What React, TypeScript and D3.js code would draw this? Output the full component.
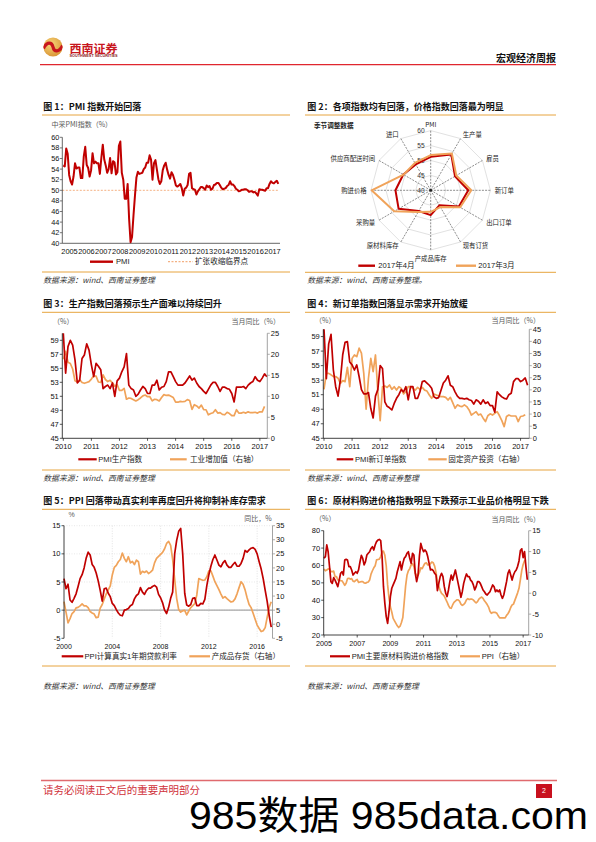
import React from 'react';
import * as d3 from 'd3';

// ================= DATA =================
const c1Years = ['2005', '2006', '2007', '2008', '2009', '2010', '2011', '2012', '2013', '2014', '2015', '2016', '2017'];
const c1Ticks = [40, 42, 44, 46, 48, 50, 52, 54, 56, 58, 60];
const c1Threshold = 50;
// monthly, Jan 2005 - Apr 2017
const c1Pmi = [
  54.7, 54.5, 57.9, 56.9, 52.9, 51.7, 51.1, 52.6, 55.1, 54.1, 54.3, 54.3,
  52.3, 52.3, 56.4, 58.2, 54.8, 54.2, 52.6, 53.8, 57.0, 55.1, 55.4, 55.1,
  55.1, 53.1, 56.1, 58.6, 55.8, 54.7, 53.3, 54.0, 56.1, 53.2, 55.5, 55.3,
  53.0, 53.4, 58.4, 59.2, 53.3, 52.0, 48.4, 48.4, 51.2, 44.6, 40.2, 41.2,
  45.3, 49.0, 52.4, 53.5, 53.1, 53.2, 53.3, 54.0, 54.3, 55.2, 55.2, 56.6,
  55.8, 52.0, 55.1, 55.7, 53.9, 52.1, 51.2, 51.7, 53.8, 54.7, 55.2, 53.9,
  52.9, 52.2, 53.4, 52.9, 52.0, 50.9, 50.7, 50.9, 51.2, 50.4, 49.0, 50.3,
  50.5, 51.0, 53.1, 53.3, 50.4, 50.2, 50.1, 49.2, 49.8, 50.2, 50.6, 50.6,
  50.4, 50.1, 50.9, 50.6, 50.8, 50.1, 50.3, 51.0, 51.1, 51.4, 51.4, 51.0,
  50.5, 50.2, 50.3, 50.4, 50.8, 51.0, 51.7, 51.1, 51.1, 50.8, 50.3, 50.1,
  49.8, 49.9, 50.1, 50.1, 50.2, 50.2, 50.0, 49.7, 49.8, 49.8, 49.6, 49.7,
  49.4, 49.0, 50.2, 50.1, 50.1, 50.0, 49.9, 50.4, 50.4, 51.2, 51.7, 51.4,
  51.3, 51.6, 51.8, 51.2,
];

const c2Axes = ['PMI', '生产量', '雇员', '新订单', '出口订单', '现有订货', '产成品库存', '原材料库存', '采购量', '购进价格', '供应商配送时间', '进口'];
const c2Apr = [51.2, 53.8, 49.4, 52.6, 50.9, 45.8, 48.3, 48.0, 52.4, 51.8, 50.6, 50.0];
const c2Mar = [51.8, 54.2, 49.9, 53.6, 51.4, 46.5, 47.2, 48.4, 54.1, 59.8, 50.5, 50.6];
const c2Rings = [45, 50, 55, 60];
const c2RingLabels = [40, 45, 50, 55, 60];

const c3Years = ['2010', '2011', '2012', '2013', '2014', '2015', '2016', '2017'];
const c3LeftTicks = [45, 47, 49, 51, 53, 55, 57, 59];
const c3RightTicks = [0, 5, 10, 15, 20, 25];
// monthly, Jan 2010 - Apr 2017
const c3Prod = [
  60.0, 54.3, 58.1, 59.0, 58.3, 56.2, 52.9, 53.3, 56.4, 56.9, 58.5, 57.6,
  55.5, 53.8, 55.7, 55.3, 54.8, 52.1, 52.4, 52.6, 52.1, 52.9, 51.0, 53.2,
  53.6, 54.5, 55.2, 57.1, 52.6, 52.1, 51.9, 51.0, 51.3, 51.9, 52.4, 52.1,
  51.4, 51.4, 52.6, 52.6, 53.3, 51.9, 52.3, 52.4, 53.1, 54.5, 54.5, 53.8,
  53.1, 52.6, 52.6, 52.6, 52.9, 53.4, 53.9, 53.3, 53.6, 52.9, 52.4, 52.1,
  51.7, 51.4, 52.0, 52.6, 53.0, 53.0, 52.4, 51.7, 52.3, 52.3, 52.1, 52.0,
  51.4, 50.2, 52.3, 52.3, 52.3, 52.4, 52.1, 52.6, 52.9, 53.1, 53.8, 53.3,
  53.1, 53.6, 54.2, 53.8,
];
// monthly, Jan 2010 - Mar 2017
const c3Iva = [
  18.8, 20.7, 18.1, 17.8, 16.5, 13.7, 13.4, 13.9, 13.3, 13.1, 13.3, 13.5,
  14.1, 14.9, 14.8, 13.4, 13.3, 15.1, 14.0, 13.5, 13.8, 13.2, 12.4, 12.8,
  11.4, 11.4, 11.9, 9.3, 9.6, 9.5, 9.2, 8.9, 9.2, 9.6, 10.1, 10.3,
  9.9, 9.9, 8.9, 9.3, 9.2, 8.9, 9.7, 10.4, 10.2, 10.3, 10.0, 9.7,
  8.6, 8.6, 8.8, 8.7, 8.8, 9.2, 9.0, 6.9, 8.0, 7.7, 7.2, 7.9,
  6.8, 6.8, 5.6, 5.9, 6.1, 6.8, 6.0, 6.1, 5.7, 5.6, 6.2, 5.9,
  5.4, 5.4, 6.8, 6.0, 6.0, 6.2, 6.0, 6.3, 6.1, 6.1, 6.2, 6.0,
  6.3, 6.3, 7.6,
];

const c4RightTicks = [0, 5, 10, 15, 20, 25, 30, 35, 40, 45];
// monthly, Jan 2010 - Apr 2017
const c4NewOrders = [
  60.0, 53.2, 58.0, 59.3, 54.4, 52.1, 50.8, 53.0, 56.5, 58.2, 58.3, 55.5,
  55.1, 54.4, 55.1, 53.5, 51.7, 51.1, 51.1, 51.3, 49.1, 47.8, 50.8, 51.7,
  55.0, 54.6, 50.0, 49.4, 49.2, 48.9, 49.8, 50.5, 51.0, 51.7, 51.4, 52.1,
  50.3, 52.1, 52.1, 50.5, 50.5, 51.4, 52.8, 52.9, 52.6, 52.3, 51.9, 50.7,
  50.5, 50.6, 51.6, 52.6, 53.0, 53.6, 52.3, 52.1, 51.4, 50.8, 50.5, 50.5,
  50.4, 50.5, 50.3, 50.2, 49.7, 50.3, 50.1, 49.7, 50.3, 49.8, 50.0, 49.5,
  49.5, 48.6, 51.4, 51.0, 50.7, 50.5, 50.4, 51.0, 51.2, 52.8, 53.2, 53.2,
  52.8, 53.0, 53.3, 52.3,
];
// monthly, Jan 2010 - Mar 2017
const c4Fai = [
  20.2, 26.8, 26.8, 26.2, 25.5, 25.5, 24.8, 22.7, 23.8, 23.4, 29.3, 21.3,
  33.0, 34.4, 33.7, 37.2, 35.2, 26.8, 12.0, 24.8, 33.0, 27.5, 34.4, 19.3,
  7.3, 21.3, 21.6, 21.0, 22.0, 20.2, 21.3, 19.9, 21.3, 20.6, 18.3, 19.3,
  21.3, 21.3, 20.6, 19.9, 21.0, 20.2, 21.0, 19.9, 19.5, 17.9, 16.5, 18.3,
  17.9, 17.5, 17.2, 17.2, 16.9, 15.8, 16.9, 14.7, 12.4, 13.8, 13.3, 13.1,
  13.8, 13.1, 11.7, 9.6, 10.3, 11.0, 9.6, 10.0, 8.3, 6.9, 9.3, 10.1,
  9.6, 10.3, 11.0, 9.3, 7.3, 4.8, 9.0, 9.6, 9.2, 9.2, 9.2, 6.9,
  9.0, 9.2, 9.7,
];

const c5Years = ['2000', '2004', '2008', '2012', '2016'];
const c5LeftTicks = [-5, 0, 5, 10, 15];
const c5RightTicks = [-5, 0, 5, 10, 15, 20, 25, 30, 35];
// every 2 months, Jan 2000 - Mar 2017
const c5RealRate = [
  5.6, 3.8, 4.6, 1.8, 1.4, 2.1, 2.9, 4.2, 5.6, 6.3, 7.5, 9.2,
  10.3, 9.8, 8.1, 7.6, 6.6, 5.2, 3.5, 1.6, 3.8, 3.9, 3.0, 2.4,
  1.2, 0.8, 0.1, -0.5, -0.9, -1.0, 0.0, 0.1, 0.3, 0.8, 1.0, 2.0,
  2.6, 2.9, 4.0, 3.2, 2.8, 3.5, 3.9, 3.9, 4.2, 4.4, 4.1, 2.8,
  2.2, 1.3, 0.0, -0.6, 0.5, 2.1, 3.2, 10.0, 12.4, 14.0, 14.5, 10.0,
  3.0, 0.9, 0.7, 1.0, 2.1, 2.2, 0.8, 0.8, 1.2, 1.1, 1.9, 4.4,
  6.3, 7.8, 9.0, 9.8, 8.9, 8.0, 7.7, 8.4, 8.8, 8.0, 7.6, 7.6,
  8.1, 8.5, 7.8, 7.8, 8.3, 9.2, 10.6, 10.3, 10.7, 11.0, 11.1, 10.8,
  10.0, 8.6, 7.3, 5.6, 3.5, 1.5, -1.0, -3.0,
];
const c5Inventory = [
  8.0, 4.3, 0.5, 2.0, 3.8, 4.5, 5.8, 6.0, 6.5, 7.2, 6.5, 6.5,
  5.9, 4.5, 4.0, 3.6, 2.3, 2.5, 5.7, 7.0, 9.0, 10.8, 12.2, 13.6,
  17.5, 20.2, 20.9, 22.2, 23.0, 25.3, 23.4, 22.2, 24.0, 21.8, 22.3, 21.2,
  22.8, 22.2, 17.8, 18.8, 18.4, 18.9, 18.0, 18.5, 19.2, 21.8, 23.4, 24.1,
  24.8, 25.5, 26.8, 28.7, 29.4, 28.0, 23.0, 16.0, 9.2, 5.2, 4.3, 4.8,
  4.9, 3.3, 4.7, 5.9, 6.6, 7.3, 10.4, 16.2, 15.9, 15.6, 15.7, 16.9,
  19.0, 19.0, 17.1, 15.1, 13.7, 12.3, 10.7, 9.3, 9.8, 9.1, 8.5, 7.9,
  8.1, 9.0, 10.8, 13.0, 15.1, 14.2, 12.2, 9.4, 7.0, 5.9, 3.9, 1.8,
  -0.3, -1.5, -2.6, -2.3, -1.2, 2.5, 6.0, 8.0,
];

const c6Years = ['2005', '2007', '2009', '2011', '2013', '2015', '2017'];
const c6LeftTicks = [20, 30, 40, 50, 60, 70, 80];
const c6RightTicks = [-10, -5, 0, 5, 10, 15];
// monthly, Jan 2005 - Apr 2017
const c6Input = [
  64.1, 65.1, 71.8, 67.9, 59.3, 50.7, 49.7, 53.0, 51.6, 49.7, 47.8, 51.6,
  55.5, 56.4, 54.5, 63.1, 63.5, 63.1, 59.3, 59.3, 57.4, 54.5, 55.5, 56.4,
  55.5, 57.5, 62.0, 65.8, 64.1, 60.3, 62.2, 66.0, 67.0, 67.9, 69.8, 70.8,
  68.9, 71.8, 73.7, 74.6, 75.0, 74.3, 65.0, 47.8, 38.2, 30.6, 26.7, 33.4,
  42.1, 46.9, 48.8, 50.7, 52.6, 56.4, 59.3, 62.2, 57.4, 61.2, 64.1, 65.1,
  67.0, 67.9, 64.1, 61.2, 67.0, 66.0, 55.5, 50.7, 54.5, 65.5, 72.7, 69.8,
  67.9, 68.9, 67.9, 65.1, 61.2, 57.4, 57.8, 57.0, 55.5, 54.5, 45.5, 49.7,
  53.6, 55.5, 53.6, 47.8, 44.0, 42.1, 45.9, 50.7, 54.5, 51.6, 54.5, 57.4,
  53.6, 49.7, 45.9, 41.7, 44.9, 49.7, 52.6, 55.1, 53.6, 53.6, 51.6, 50.7,
  48.8, 45.9, 47.8, 50.7, 50.7, 49.7, 47.8, 45.9, 44.9, 43.6, 43.0, 44.0,
  44.9, 46.9, 48.8, 47.8, 44.9, 45.9, 44.9, 45.9, 43.0, 41.1, 43.0, 46.9,
  50.7, 55.5, 57.4, 54.5, 51.6, 54.5, 56.4, 57.4, 59.5, 62.6, 68.6, 69.6,
  64.5, 68.0, 59.3, 51.8,
];
// monthly, Jan 2005 - Mar 2017
const c6Ppi = [
  5.8, 5.4, 5.6, 5.8, 5.9, 5.2, 5.2, 5.3, 4.0, 4.0, 3.2, 3.2,
  3.0, 3.0, 2.5, 1.9, 2.4, 3.5, 3.6, 3.4, 3.5, 2.9, 2.8, 3.1,
  3.3, 2.6, 2.7, 2.8, 2.8, 2.5, 2.4, 2.6, 2.7, 3.2, 4.6, 5.4,
  6.1, 6.6, 8.0, 8.1, 8.2, 8.8, 10.0, 10.1, 9.1, 6.6, 2.0, -1.1,
  -3.3, -4.5, -6.0, -6.6, -7.2, -7.8, -8.2, -7.9, -7.0, -5.8, -2.1, 1.7,
  4.3, 5.4, 5.9, 6.8, 7.1, 6.4, 4.8, 4.3, 4.3, 5.0, 6.1, 5.9,
  6.6, 7.2, 7.3, 6.8, 6.8, 7.1, 7.5, 7.3, 6.5, 5.0, 2.7, 1.7,
  0.7, 0.0, -0.3, -0.7, -1.4, -2.1, -2.9, -3.5, -3.6, -2.8, -2.2, -1.9,
  -1.6, -1.6, -1.9, -2.6, -2.9, -2.7, -2.3, -1.6, -1.3, -1.5, -1.4, -1.4,
  -1.6, -2.0, -2.3, -2.0, -1.4, -1.1, -0.9, -1.2, -1.8, -2.2, -2.7, -3.3,
  -4.3, -4.8, -4.6, -4.6, -4.6, -4.8, -5.4, -5.9, -5.9, -5.9, -5.9, -5.9,
  -5.3, -4.9, -4.3, -3.4, -2.8, -2.6, -1.7, -0.8, 0.1, 1.2, 3.3, 5.5,
  6.9, 7.8, 7.6,
];

// ================= STYLE =================
const RED = '#C00000';
const ORANGE = '#F0A35A';
const SEP = '#E7A43E';
const FONT = '"Liberation Sans", "Noto Sans CJK SC", Arial, sans-serif';
const CJK = '"Noto Sans CJK SC", "Liberation Sans", sans-serif';

type LegendItem = { color: string; x1: number; x2: number; tx: number; label: string; dash?: string; w?: number };

function Panel(props: {
  title: string; tx: number; lx0: number; lx1: number; titleY: number; sepTop: number; sepBot: number;
  legendY: number; legend: LegendItem[]; sourceY: number; source: string;
}) {
  const p = props;
  return (
    <g>
      <text x={p.tx} y={p.titleY} fontFamily={CJK} fontSize={9} fontWeight={700} fill="#111">{p.title}</text>
      <line x1={p.lx0} x2={p.lx1} y1={p.sepTop} y2={p.sepTop} stroke={SEP} strokeWidth={1} />
      <line x1={p.lx0} x2={p.lx1} y1={p.sepBot} y2={p.sepBot} stroke={SEP} strokeWidth={1} />
      {p.legend.map((l, i) => (
        <g key={i}>
          <line x1={l.x1} x2={l.x2} y1={p.legendY} y2={p.legendY} stroke={l.color} strokeWidth={l.w ?? 2.2} strokeDasharray={l.dash} />
          <text x={l.tx} y={p.legendY} dy="0.35em" fontFamily={FONT} fontSize={7.6} fill="#222">{l.label}</text>
        </g>
      ))}
      <text x={p.tx} y={p.sourceY} dy="0.35em" fontFamily={CJK} fontSize={7.8} fontStyle="italic" fill="#333">{p.source}</text>
    </g>
  );
}

function Header() {
  const cx = 53, cy = 47, r = 9.6;
  return (
    <g>
      <defs>
        <radialGradient id="logoG" cx="40%" cy="35%" r="70%">
          <stop offset="0%" stopColor="#F7D77A" />
          <stop offset="100%" stopColor="#D89232" />
        </radialGradient>
        <clipPath id="logoC"><circle cx={cx} cy={cy} r={r} /></clipPath>
      </defs>
      <circle cx={cx} cy={cy} r={r} fill="url(#logoG)" />
      <g clipPath="url(#logoC)">
        <path d={`M${cx - r} ${cy + 1.5} C${cx - 6} ${cy - 6} ${cx - 1} ${cy - 5} ${cx} ${cy} C${cx + 1} ${cy + 5} ${cx + 6} ${cy + 6} ${cx + r} ${cy - 1.5}`}
          fill="none" stroke="#C8161D" strokeWidth={3.2} />
      </g>
      <text x={69.5} y={52.5} fontFamily={CJK} fontSize={11.5} fontWeight={700} fill="#C8161D" textLength={48} lengthAdjust="spacingAndGlyphs">西南证券</text>
      <text x={69.5} y={57.2} fontFamily={FONT} fontSize={3.6} fontWeight={700} fill="#8B1A1A" textLength={48} lengthAdjust="spacingAndGlyphs">SOUTHWEST SECURITIES</text>
      <text x={556} y={61.5} textAnchor="end" fontFamily={CJK} fontSize={10} fontWeight={700} fill="#111">宏观经济周报</text>
      <line x1={40} x2={556} y1={64.6} y2={64.6} stroke="#E0262E" strokeWidth={1.4} />
    </g>
  );
}

function Footer() {
  return (
    <g>
      <line x1={41} x2={557} y1={780.5} y2={780.5} stroke="#E06A6E" strokeWidth={1.3} />
      <text x={43} y={793.5} fontFamily={CJK} fontSize={10} fill="#D0313A" textLength={157} lengthAdjust="spacingAndGlyphs">请务必阅读正文后的重要声明部分</text>
      <rect x={536} y={784} width={16} height={14} fill="#C8101E" />
      <text x={544} y={791} dy="0.35em" textAnchor="middle" fontFamily={FONT} fontSize={7} fill="#fff">2</text>
      <text x={189} y={829} fontFamily={'"Liberation Sans", "Noto Sans CJK SC", sans-serif'} fontSize={39} fill="#000" textLength={399} lengthAdjust="spacingAndGlyphs">985数据 985data.com</text>
    </g>
  );
}

function Chart1() {
  const n = c1Pmi.length;
  const x = d3.scaleLinear().domain([0, n - 1]).range([63.3, 278.3]);
  const y = d3.scaleLinear().domain([40, 60]).range([243.3, 137.3]);
  const xl = d3.scalePoint<string>().domain(c1Years).range([69.5, 272.5]);
  const line = d3.line<number>().x((_, i) => x(i)).y(d => y(Math.max(40, d)));
  const left = 62.3;
  return (
    <g>
      <Panel title="图 1：PMI 指数开始回落" tx={43.3} lx0={42} lx1={290} titleY={110.3} sepTop={115} sepBot={272}
        legendY={261.7}
        legend={[
          { color: RED, x1: 90, x2: 113, tx: 116, label: 'PMI', w: 2.4 },
          { color: '#F4B183', x1: 168, x2: 193, tx: 195, label: '扩张收缩临界点', dash: '2,1.5', w: 1.2 },
        ]}
        sourceY={279.8} source="数据来源：wind、西南证券整理" />
      <text x={51.5} y={124.3} dy="0.35em" fontFamily={CJK} fontSize={7} fill="#595959">中采PMI指数（%）</text>
      <line x1={left} x2={278.3} y1={y(c1Threshold)} y2={y(c1Threshold)} stroke="#F4B183" strokeWidth={1} strokeDasharray="2,1.5" />
      {c1Ticks.map(t => (
        <g key={t}>
          <line x1={left - 2.5} x2={left} y1={y(t)} y2={y(t)} stroke="#404040" strokeWidth={0.7} />
          <text x={59.3} y={y(t)} dy="0.35em" textAnchor="end" fontFamily={FONT} fontSize={7.3} fill="#111">{t}</text>
        </g>
      ))}
      <line x1={left} x2={left} y1={y(60)} y2={y(40)} stroke="#404040" strokeWidth={0.8} />
      <line x1={left} x2={280} y1={y(40)} y2={y(40)} stroke="#404040" strokeWidth={0.8} />
      {c1Years.map(yr => (
        <text key={yr} x={xl(yr)} y={254} textAnchor="middle" fontFamily={FONT} fontSize={7.4} fill="#111">{yr}</text>
      ))}
      <path d={line(c1Pmi) || ''} fill="none" stroke={RED} strokeWidth={2} strokeLinejoin="round" />
    </g>
  );
}

function Chart2() {
  const cx = 430.7, cy = 190.3;
  const r = d3.scaleLinear().domain([40, 60]).range([0, 59.7]);
  const n = c2Axes.length;
  const pt = (i: number, v: number) => {
    const a = (i * 2 * Math.PI) / n;
    return [cx + r(v) * Math.sin(a), cy - r(v) * Math.cos(a)] as [number, number];
  };
  const poly = (vals: number[]) => {
    const l = d3.line<number>().x((d, i) => pt(i, d)[0]).y((d, i) => pt(i, d)[1]).curve(d3.curveLinearClosed);
    return l(vals) || '';
  };
  return (
    <g>
      <Panel title="图 2：各项指数均有回落，价格指数回落最为明显" tx={307.3} lx0={305} lx1={556} titleY={110.3} sepTop={115} sepBot={272.3}
        legendY={265.7}
        legend={[
          { color: RED, x1: 358.3, x2: 375, tx: 378.3, label: '2017年4月', w: 2.4 },
          { color: ORANGE, x1: 456, x2: 476, tx: 478.3, label: '2017年3月', w: 2.4 },
        ]}
        sourceY={279.8} source="数据来源：wind、西南证券整理。" />
      <text x={314} y={125.7} dy="0.35em" fontFamily={CJK} fontSize={6.6} fontWeight={700} fill="#222">季节调整数据</text>
      {c2Rings.map(v => (
        <path key={v} d={poly(c2Axes.map(() => v))} fill="none" stroke="#D9D9D9" strokeWidth={0.8} />
      ))}
      {c2Axes.map((_, i) => {
        const [ex, ey] = pt(i, 60);
        return <line key={i} x1={cx} y1={cy} x2={ex} y2={ey} stroke="#404040" strokeWidth={0.6} strokeDasharray="2,1.2" />;
      })}
      <circle cx={cx} cy={cy} r={1.3} fill="#222" />
      {c2RingLabels.map(v => (
        <text key={v} x={cx - 6} y={cy - r(v)} dy="0.35em" textAnchor="end" fontFamily={FONT} fontSize={6.6} fill="#333">{v}</text>
      ))}
      <path d={poly(c2Apr)} fill="none" stroke={RED} strokeWidth={2} strokeLinejoin="round" />
      <path d={poly(c2Mar)} fill="none" stroke={ORANGE} strokeWidth={2} strokeLinejoin="round" />
      {c2Axes.map((lab, i) => {
        const a = (i * 2 * Math.PI) / n;
        const s = Math.sin(a), c = Math.cos(a);
        const lr = 64;
        const lx = cx + lr * s, ly = cy - lr * c;
        const anchor = Math.abs(s) < 0.01 ? 'middle' : s > 0 ? 'start' : 'end';
        const dy = Math.abs(s) < 0.01 ? (c > 0 ? -2 : 4) : 0;
        return (
          <text key={lab} x={lx} y={ly + dy} dy="0.35em" textAnchor={anchor} fontFamily={CJK} fontSize={6.4} fill="#222">{lab}</text>
        );
      })}
    </g>
  );
}

type Series = { values: number[]; axis: 'L' | 'R'; color: string; step: number };

function DualChart(p: {
  left: number; right: number; top: number; bottom: number;
  mx0: number; mpx: number;
  lDom: [number, number]; rDom: [number, number];
  lTicks: number[]; rTicks: number[];
  xTicks: { label: string; m: number }[];
  series: Series[];
  zeroLine?: boolean; grid?: boolean; xAxisLine?: boolean; xLabelY: number; xFont?: number;
}) {
  const xs = d3.scaleLinear().domain([0, 12]).range([p.mx0, p.mx0 + 12 * p.mpx]);
  const yl = d3.scaleLinear().domain(p.lDom).range([p.bottom, p.top]);
  const yr = d3.scaleLinear().domain(p.rDom).range([p.bottom, p.top]);
  return (
    <g>
      {p.grid && p.xTicks.slice(1).map(t => (
        <line key={'gx' + t.label} x1={xs(t.m)} x2={xs(t.m)} y1={p.top} y2={p.bottom} stroke="#D0D0D0" strokeWidth={0.6} strokeDasharray="1,1.5" />
      ))}
      {p.grid && p.lTicks.slice(1).map(t => (
        <line key={'gy' + t} x1={p.left} x2={p.right} y1={yl(t)} y2={yl(t)} stroke="#D8D8D8" strokeWidth={0.6} strokeDasharray="1,1.5" />
      ))}
      {p.zeroLine && (
        <line x1={p.left} x2={p.right} y1={yl(0)} y2={yl(0)} stroke="#A6A6A6" strokeWidth={1.4} />
      )}
      {p.series.map((s, i) => {
        const ys = s.axis === 'L' ? yl : yr;
        const line = d3.line<number>().x((_, j) => xs(j * s.step)).y(d => ys(d));
        return <path key={i} d={line(s.values) || ''} fill="none" stroke={s.color} strokeWidth={1.7} strokeLinejoin="round" />;
      })}
      <line x1={p.left} x2={p.left} y1={p.top} y2={p.bottom} stroke="#111" strokeWidth={0.8} />
      {p.lTicks.map(t => (
        <g key={'l' + t}>
          <line x1={p.left - 2.5} x2={p.left} y1={yl(t)} y2={yl(t)} stroke="#111" strokeWidth={0.7} />
          <text x={p.left - 3.5} y={yl(t)} dy="0.35em" textAnchor="end" fontFamily={FONT} fontSize={7.5} fill="#111">{t}</text>
        </g>
      ))}
      <line x1={p.right} x2={p.right} y1={p.top} y2={p.bottom} stroke="#8C8C8C" strokeWidth={0.8} />
      {p.rTicks.map(t => (
        <g key={'r' + t}>
          <line x1={p.right} x2={p.right + 2.5} y1={yr(t)} y2={yr(t)} stroke="#8C8C8C" strokeWidth={0.7} />
          <text x={p.right + 3.5} y={yr(t)} dy="0.35em" textAnchor="start" fontFamily={FONT} fontSize={7.5} fill="#111">{t}</text>
        </g>
      ))}
      {p.xAxisLine && <line x1={p.left} x2={p.right} y1={p.bottom} y2={p.bottom} stroke="#111" strokeWidth={0.8} />}
      {p.xTicks.map(t => (
        <g key={'x' + t.label}>
          {p.xAxisLine && <line x1={xs(t.m)} x2={xs(t.m)} y1={p.bottom} y2={p.bottom + 2.5} stroke="#111" strokeWidth={0.7} />}
          <text x={xs(t.m)} y={p.xLabelY} textAnchor="middle" fontFamily={FONT} fontSize={p.xFont ?? 7.5} fill="#111">{t.label}</text>
        </g>
      ))}
    </g>
  );
}

const yearTicks = (years: string[], first: number) => years.map(y => ({ label: y, m: (+y - first) * 12 }));

export default function App() {
  return (
    <svg width={596} height={842} viewBox="0 0 596 842" xmlns="http://www.w3.org/2000/svg"
      style={{ position: 'absolute', left: 0, top: 0, background: '#fff' }}>
      <rect x={0} y={0} width={596} height={842} fill="#fff" />
      <Header />
      <Chart1 />
      <Chart2 />

      {/* Chart 3 */}
      <Panel title="图 3：生产指数回落预示生产面难以持续回升" tx={43.3} lx0={42} lx1={290} titleY={306.8} sepTop={312.3} sepBot={470}
        legendY={459.3}
        legend={[
          { color: RED, x1: 78.3, x2: 96.7, tx: 98.3, label: 'PMI生产指数' },
          { color: ORANGE, x1: 170, x2: 186.7, tx: 190, label: '工业增加值（右轴）' },
        ]}
        sourceY={478} source="数据来源：wind、西南证券整理" />
      <text x={53} y={321.7} dy="0.35em" fontFamily={CJK} fontSize={7} fill="#595959">（%）</text>
      <text x={280} y={322} dy="0.35em" textAnchor="end" fontFamily={CJK} fontSize={7} fill="#595959">当月同比（%）</text>
      <DualChart left={62.3} right={267.3} top={333.3} bottom={438.3} mx0={63.3} mpx={2.34}
        lDom={[45, 60]} rDom={[0, 25]} lTicks={c3LeftTicks} rTicks={c3RightTicks}
        xTicks={yearTicks(c3Years, 2010)} xAxisLine xLabelY={449.3}
        series={[
          { values: c3Iva, axis: 'R', color: ORANGE, step: 1 },
          { values: c3Prod, axis: 'L', color: RED, step: 1 },
        ]} />

      {/* Chart 4 */}
      <Panel title="图 4：新订单指数回落显示需求开始放缓" tx={307.3} lx0={305} lx1={556} titleY={306.8} sepTop={312.3} sepBot={470}
        legendY={459.3}
        legend={[
          { color: RED, x1: 336.7, x2: 353.3, tx: 355, label: 'PMI新订单指数' },
          { color: ORANGE, x1: 428.3, x2: 446.7, tx: 448.3, label: '固定资产投资（右轴）' },
        ]}
        sourceY={478} source="数据来源：wind、西南证券整理" />
      <text x={315} y={320.8} dy="0.35em" fontFamily={CJK} fontSize={7} fill="#595959">（%）</text>
      <text x={540} y={320.8} dy="0.35em" textAnchor="end" fontFamily={CJK} fontSize={7} fill="#595959">当月同比（%）</text>
      <DualChart left={323.3} right={529.3} top={329.3} bottom={438.3} mx0={324} mpx={2.34}
        lDom={[45, 60]} rDom={[0, 45]} lTicks={c3LeftTicks} rTicks={c4RightTicks}
        xTicks={yearTicks(c3Years, 2010)} xAxisLine xLabelY={449.3}
        series={[
          { values: c4Fai, axis: 'R', color: ORANGE, step: 1 },
          { values: c4NewOrders, axis: 'L', color: RED, step: 1 },
        ]} />

      {/* Chart 5 */}
      <Panel title="图 5：PPI 回落带动真实利率再度回升将抑制补库存需求" tx={43.3} lx0={42} lx1={290} titleY={503.6} sepTop={509.3} sepBot={666}
        legendY={656.3}
        legend={[
          { color: RED, x1: 61.7, x2: 83.3, tx: 84.5, label: 'PPI计算真实1年期贷款利率' },
          { color: ORANGE, x1: 189.3, x2: 210, tx: 211.7, label: '产成品存货（右轴）' },
        ]}
        sourceY={686} source="数据来源：wind、西南证券整理" />
      <text x={71.7} y={515} dy="0.35em" textAnchor="middle" fontFamily={FONT} fontSize={7} fill="#595959">%</text>
      <text x={271.7} y={518.3} dy="0.35em" textAnchor="end" fontFamily={CJK} fontSize={7} fill="#595959">同比，%</text>
      <DualChart left={64} right={272.5} top={525.7} bottom={638.3} mx0={64} mpx={1.006}
        lDom={[-5, 15]} rDom={[-5, 35]} lTicks={c5LeftTicks} rTicks={c5RightTicks}
        xTicks={yearTicks(c5Years, 2000)} grid zeroLine xLabelY={648.5} xFont={7}
        series={[
          { values: c5Inventory, axis: 'R', color: ORANGE, step: 2 },
          { values: c5RealRate, axis: 'L', color: RED, step: 2 },
        ]} />

      {/* Chart 6 */}
      <Panel title="图 6：原材料购进价格指数明显下跌预示工业品价格明显下跌" tx={307.3} lx0={305} lx1={556} titleY={503.6} sepTop={509.3} sepBot={666}
        legendY={656.3}
        legend={[
          { color: RED, x1: 330, x2: 350, tx: 351.7, label: 'PMI主要原材料购进价格指数' },
          { color: ORANGE, x1: 460, x2: 480, tx: 481.7, label: 'PPI（右轴）' },
        ]}
        sourceY={686} source="数据来源：wind、西南证券整理" />
      <text x={315} y={518.3} dy="0.35em" fontFamily={CJK} fontSize={7} fill="#595959">（%）</text>
      <text x={540} y={519.3} dy="0.35em" textAnchor="end" fontFamily={CJK} fontSize={7} fill="#595959">当月同比（%）</text>
      <DualChart left={323.7} right={528.7} top={530.7} bottom={635} mx0={324} mpx={1.383}
        lDom={[20, 80]} rDom={[-10, 15]} lTicks={c6LeftTicks} rTicks={c6RightTicks}
        xTicks={yearTicks(c6Years, 2005)} xAxisLine xLabelY={645.5} xFont={7.2}
        series={[
          { values: c6Ppi, axis: 'R', color: ORANGE, step: 1 },
          { values: c6Input, axis: 'L', color: RED, step: 1 },
        ]} />

      <Footer />
    </svg>
  );
}
